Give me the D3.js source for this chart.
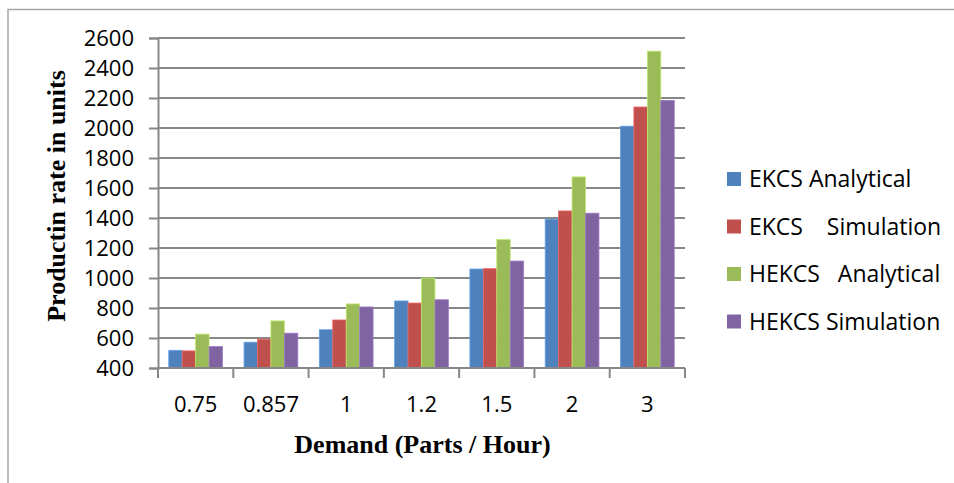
<!DOCTYPE html>
<html>
<head>
<meta charset="utf-8">
<script src="https://cdn.jsdelivr.net/npm/d3@7/dist/d3.min.js"></script>
<style>
  html, body { margin: 0; padding: 0; background: #fff; }
  svg { display: block; }
  .tick text { font-family: "Open Sans", sans-serif; font-size: 22px; fill: #000; }
  .legend text { font-family: "Open Sans", sans-serif; font-size: 23px; fill: #000; white-space: pre; }
  .title { font-family: "Liberation Serif", "Times New Roman", serif; font-weight: bold; font-size: 26px; fill: #000; }
</style>
</head>
<body>
<svg id="chart" width="954" height="483"></svg>
<script>
// Demand levels (parts / hour)
const categories = ["0.75", "0.857", "1", "1.2", "1.5", "2", "3"];
const seriesNames = ["EKCS Analytical", "EKCS    Simulation", "HEKCS   Analytical", "HEKCS Simulation"];
const seriesColors = ["#4F81BD", "#C0504D", "#9BBB59", "#8064A2"];

// Production rate per series, one value per demand level
const ekcsAnalytical  = [518, 572, 655, 847, 1060, 1392, 2012];
const ekcsSimulation  = [514, 592, 720, 833, 1062, 1447, 2140];
const hekcsAnalytical = [626, 714, 827, 1000, 1256, 1674, 2512];
const hekcsSimulation = [543, 632, 807, 855, 1113, 1432, 2184];
const seriesValues = [ekcsAnalytical, ekcsSimulation, hekcsAnalytical, hekcsSimulation];

const yTicks = [400, 600, 800, 1000, 1200, 1400, 1600, 1800, 2000, 2200, 2400, 2600];

const svg = d3.select("#chart");
const plot = { left: 158, right: 685, top: 38, bottom: 368 };
const gridColor = "#878787";

// outer frame
svg.append("rect")
  .attr("x", 8).attr("y", 9.5)
  .attr("width", 1000).attr("height", 600)
  .attr("fill", "none").attr("stroke", "#a6a6a6").attr("stroke-width", 1.5);

const x0 = d3.scaleBand().domain(categories).range([plot.left, plot.right]).padding(0);
const bw = x0.bandwidth();
const gap = bw * 0.143;
const x1 = d3.scaleBand().domain(d3.range(seriesNames.length)).range([gap, bw - gap]).padding(0);
const y = d3.scaleLinear().domain([400, 2600]).range([plot.bottom, plot.top]);

// horizontal gridlines
svg.append("g")
  .selectAll("line")
  .data(yTicks.slice(1))
  .join("line")
  .attr("x1", plot.left).attr("x2", plot.right)
  .attr("y1", d => y(d)).attr("y2", d => y(d))
  .attr("stroke", gridColor).attr("stroke-width", 2);

// bars
const groups = svg.append("g")
  .selectAll("g")
  .data(categories)
  .join("g")
  .attr("transform", c => `translate(${x0(c)},0)`);

groups.selectAll("rect")
  .data((c, i) => seriesValues.map((vals, s) => ({ s, v: vals[i] })))
  .join("rect")
  .attr("x", d => x1(d.s))
  .attr("width", x1.bandwidth())
  .attr("y", d => y(d.v))
  .attr("height", d => y(400) - y(d.v))
  .attr("fill", d => seriesColors[d.s])
  .attr("stroke", d => d3.color(seriesColors[d.s]).brighter(0.6))
  .attr("stroke-width", 0.8);

// y axis
const yAxis = svg.append("g")
  .attr("transform", `translate(${plot.left},0)`)
  .call(d3.axisLeft(y).tickValues(yTicks).tickFormat(d3.format("d")).tickSize(9).tickPadding(15));
yAxis.select(".domain").attr("stroke", gridColor).attr("stroke-width", 2);
yAxis.selectAll(".tick line").attr("stroke", gridColor).attr("stroke-width", 2);

// x axis with ticks at category boundaries
const xAxis = svg.append("g")
  .attr("transform", `translate(0,${plot.bottom})`)
  .call(d3.axisBottom(x0).tickSize(0).tickPadding(28));
xAxis.select(".domain").attr("stroke", gridColor).attr("stroke-width", 2).attr("d", `M${plot.left},0H${plot.right}`);
xAxis.append("g")
  .selectAll("line")
  .data(categories.map(c => x0(c)).concat([plot.right]))
  .join("line")
  .attr("x1", d => d).attr("x2", d => d)
  .attr("y1", 0).attr("y2", 10)
  .attr("stroke", gridColor).attr("stroke-width", 2);

// axis titles
svg.append("text")
  .attr("class", "title")
  .attr("x", (plot.left + plot.right) / 2 + 1)
  .attr("y", 453)
  .attr("text-anchor", "middle")
  .text("Demand (Parts / Hour)");

svg.append("text")
  .attr("class", "title")
  .attr("transform", "translate(65,196) rotate(-90)")
  .attr("text-anchor", "middle")
  .text("Productin rate in units");

// legend
const legend = svg.append("g").attr("class", "legend")
  .selectAll("g")
  .data(seriesNames)
  .join("g")
  .attr("transform", (d, i) => `translate(727,${179 + i * 47.5})`);
legend.append("rect")
  .attr("x", 0).attr("y", -7)
  .attr("width", 14).attr("height", 14)
  .attr("fill", (d, i) => seriesColors[i]);
legend.append("text")
  .attr("x", 22).attr("y", 0)
  .attr("dy", "0.36em")
  .text(d => d);
</script>
</body>
</html>
